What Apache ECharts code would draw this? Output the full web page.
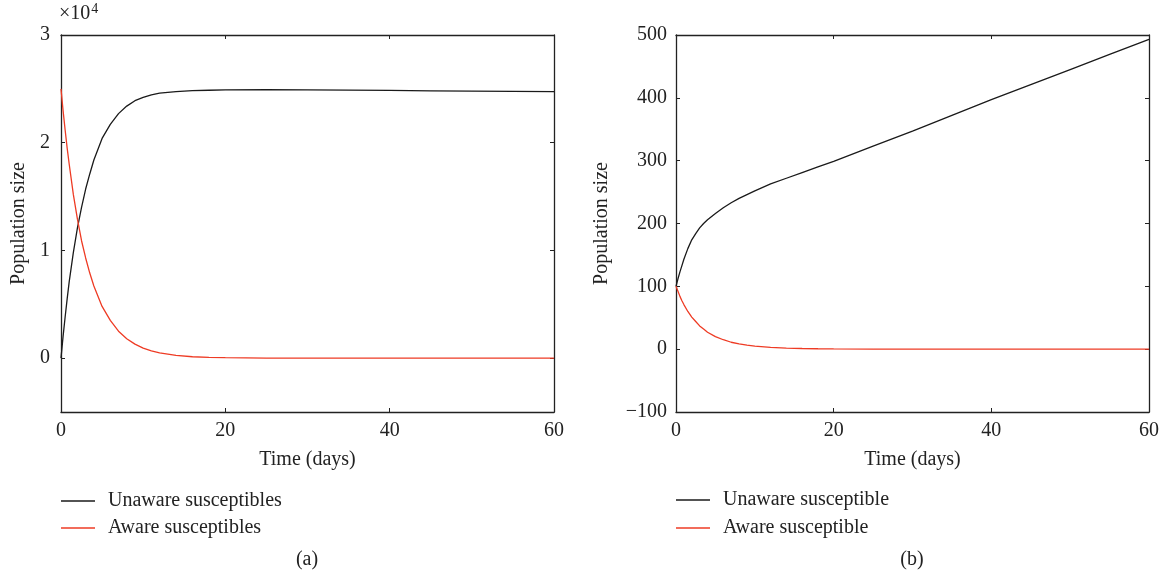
<!DOCTYPE html>
<html lang="en">
<head>
    <meta charset="UTF-8">
    <title>Unaware and aware susceptibles</title>
    <style>
        html, body { margin: 0; padding: 0; background: #fff; }
        #main { width: 1165px; height: 577px; }
    </style>
    <script src="https://cdn.jsdelivr.net/npm/echarts@6/dist/echarts.min.js"></script>
</head>
<body>
<div id="main"></div>
<script type="text/javascript">
    // panel (a): time in days, population
    var timeA = [0, 0.25, 0.5, 0.75, 1, 1.5, 2, 2.5, 3, 3.5, 4, 5, 6, 7, 8, 9, 10, 11, 12, 14, 16, 18, 20, 25, 30, 35, 40, 45, 50, 55, 60];
    var unawareA = [0, 2000, 3800, 5500, 7100, 9800, 12100, 14000, 15700, 17100, 18400, 20400, 21700, 22700, 23400, 23900, 24200, 24450, 24600, 24750, 24830, 24870, 24900, 24920, 24900, 24880, 24850, 24820, 24790, 24770, 24750];
    var awareA = [25000, 23000, 21200, 19500, 18000, 15200, 12900, 10900, 9300, 7900, 6700, 4800, 3500, 2500, 1800, 1300, 930, 680, 480, 250, 130, 70, 40, 10, 0, 0, 0, 0, 0, 0, 0];

    // panel (b)
    var timeB = [0, 0.25, 0.5, 0.75, 1, 1.5, 2, 2.5, 3, 3.5, 4, 5, 6, 7, 8, 9, 10, 12, 14, 16, 18, 20, 25, 30, 35, 40, 45, 50, 55, 60];
    var unawareB = [100, 112, 123, 133, 143, 160, 174, 184, 193, 200, 206, 216, 225, 233, 240, 246, 252, 263, 272, 281, 290, 299, 323, 347, 372, 397, 421, 445, 469, 493];
    var awareB = [100, 92, 84, 77, 71, 60, 51, 44, 37, 32, 27, 20, 15, 11, 8.5, 6.5, 5, 3, 1.8, 1.1, 0.7, 0.4, 0.1, 0, 0, 0, 0, 0, 0, 0];

    var yTicksA = [0, 10000, 20000, 30000];

    var FONT = 'Liberation Serif';
    var INK = '#222';
    var BLACK = '#1a1a1a';
    var RED = '#ee3b24';

    function pairs(t, v) {
        return t.map(function (x, i) { return [x, v[i]]; });
    }

    var axisLine = { show: true, onZero: false, lineStyle: { color: INK, width: 1.3 } };
    var label = { color: INK, fontFamily: FONT, fontSize: 20 };

    function xAxisPair(grid) {
        return [{
            type: 'value', gridIndex: grid, min: 0, max: 60, interval: 20,
            position: 'bottom',
            name: 'Time (days)', nameLocation: 'middle', nameGap: 38,
            nameTextStyle: { color: INK, fontFamily: FONT, fontSize: 20 },
            axisLine: axisLine,
            axisTick: { inside: true, length: 4, lineStyle: { color: INK } },
            axisLabel: Object.assign({ margin: 9 }, label),
            splitLine: { show: false }
        }, {
            type: 'value', gridIndex: grid, min: 0, max: 60, interval: 20,
            position: 'top',
            axisLine: axisLine,
            axisTick: { inside: true, length: 4, lineStyle: { color: INK } },
            axisLabel: { show: false },
            splitLine: { show: false }
        }];
    }

    var option = {
        animation: false,
        backgroundColor: '#fff',
        grid: [
            { left: 61, top: 35, right: 611, bottom: 165 },
            { left: 676, top: 35, right: 16, bottom: 165 }
        ],
        xAxis: xAxisPair(0).concat(xAxisPair(1)),
        yAxis: [{
            type: 'value', gridIndex: 0, min: -5000, max: 30000,
            name: 'Population size', nameLocation: 'middle', nameGap: 32,
            nameTextStyle: { color: INK, fontFamily: FONT, fontSize: 20 },
            axisLine: axisLine,
            axisTick: { inside: true, length: 4, customValues: yTicksA, lineStyle: { color: INK } },
            axisLabel: Object.assign({
                margin: 11, customValues: yTicksA,
                formatter: function (v) { return String(Math.round(v / 10000)); }
            }, label),
            splitLine: { show: false }
        }, {
            type: 'value', gridIndex: 0, min: -5000, max: 30000, position: 'right',
            axisLine: axisLine,
            axisTick: { inside: true, length: 4, customValues: yTicksA, lineStyle: { color: INK } },
            axisLabel: { show: false, customValues: yTicksA },
            splitLine: { show: false }
        }, {
            type: 'value', gridIndex: 1, min: -100, max: 500, interval: 100,
            name: 'Population size', nameLocation: 'middle', nameGap: 64,
            nameTextStyle: { color: INK, fontFamily: FONT, fontSize: 20 },
            axisLine: axisLine,
            axisTick: { inside: true, length: 4, lineStyle: { color: INK } },
            axisLabel: Object.assign({
                margin: 9,
                formatter: function (v) { return String(v).replace('-', '\u2212'); }
            }, label),
            splitLine: { show: false }
        }, {
            type: 'value', gridIndex: 1, min: -100, max: 500, interval: 100, position: 'right',
            axisLine: axisLine,
            axisTick: { inside: true, length: 4, lineStyle: { color: INK } },
            axisLabel: { show: false },
            splitLine: { show: false }
        }],
        legend: [{
            data: ['Unaware susceptibles', 'Aware susceptibles'],
            orient: 'vertical', left: 56, top: 486,
            icon: 'rect', itemWidth: 34, itemHeight: 1.4, itemGap: 7,
            textStyle: { color: INK, fontFamily: FONT, fontSize: 20, lineHeight: 20, padding: [0, 0, 0, 8] }
        }, {
            data: ['Unaware susceptible', 'Aware susceptible'],
            orient: 'vertical', left: 671, top: 485,
            icon: 'rect', itemWidth: 34, itemHeight: 1.4, itemGap: 8,
            textStyle: { color: INK, fontFamily: FONT, fontSize: 20, lineHeight: 20, padding: [0, 0, 0, 8] }
        }],
        graphic: [{
            type: 'text', left: 59, top: 2,
            style: {
                text: '{b|\u00d710}{s|4}', fill: INK,
                rich: {
                    b: { fontFamily: FONT, fontSize: 20, fill: INK, verticalAlign: 'bottom' },
                    s: { fontFamily: FONT, fontSize: 14, fill: INK, verticalAlign: 'top', padding: [0, 0, 8, 1] }
                }
            }
        }, {
            type: 'text', x: 307, y: 560,
            style: { text: '(a)', fill: INK, fontFamily: FONT, fontSize: 20, align: 'center', verticalAlign: 'middle' }
        }, {
            type: 'text', x: 912, y: 560,
            style: { text: '(b)', fill: INK, fontFamily: FONT, fontSize: 20, align: 'center', verticalAlign: 'middle' }
        }],
        series: [{
            name: 'Unaware susceptibles', type: 'line', xAxisIndex: 0, yAxisIndex: 0,
            data: pairs(timeA, unawareA), symbol: 'none', smooth: false,
            lineStyle: { color: BLACK, width: 1.3 }, itemStyle: { color: BLACK }
        }, {
            name: 'Aware susceptibles', type: 'line', xAxisIndex: 0, yAxisIndex: 0,
            data: pairs(timeA, awareA), symbol: 'none', smooth: false,
            lineStyle: { color: RED, width: 1.3 }, itemStyle: { color: RED }
        }, {
            name: 'Unaware susceptible', type: 'line', xAxisIndex: 2, yAxisIndex: 2,
            data: pairs(timeB, unawareB), symbol: 'none', smooth: false,
            lineStyle: { color: BLACK, width: 1.3 }, itemStyle: { color: BLACK }
        }, {
            name: 'Aware susceptible', type: 'line', xAxisIndex: 2, yAxisIndex: 2,
            data: pairs(timeB, awareB), symbol: 'none', smooth: false,
            lineStyle: { color: RED, width: 1.3 }, itemStyle: { color: RED }
        }]
    };

    var myChart = echarts.init(document.getElementById('main'));
    myChart.setOption(option);
</script>
</body>
</html>
